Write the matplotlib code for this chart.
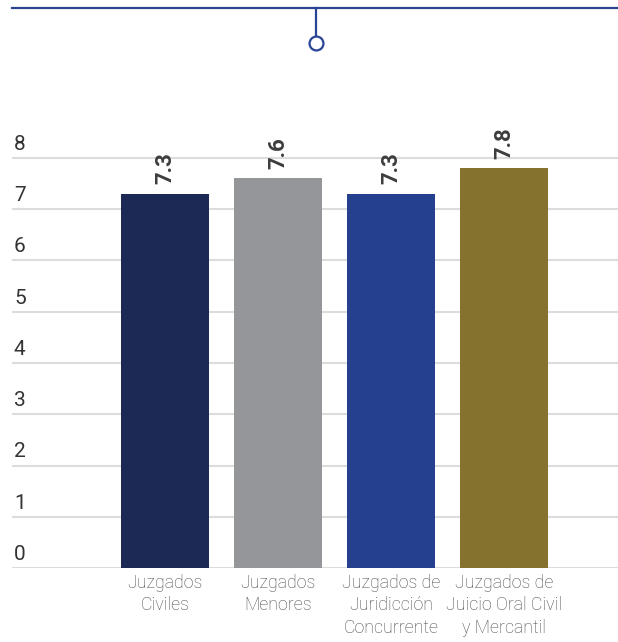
import matplotlib
matplotlib.use("Agg")
import matplotlib.pyplot as plt
from matplotlib.lines import Line2D
from matplotlib.transforms import blended_transform_factory, offset_copy

categories = ["Juzgados\nCiviles", "Juzgados\nMenores", "Juzgados de\nJuridicción\nConcurrente", "Juzgados de\nJuicio Oral Civil\ny Mercantil"]
values = [7.3, 7.6, 7.3, 7.8]
value_labels = ["7.3", "7.6", "7.3", "7.8"]
colors = ["#1c2955", "#959699", "#25408f", "#84722e"]
yticks = [0, 1, 2, 3, 4, 5, 6, 7, 8]

plt.rcParams['font.family'] = ['Roboto', 'DejaVu Sans']

W, H = 618, 642
fig = plt.figure(figsize=(W / 100, H / 100), dpi=100)

ax_left, ax_right = 12, 618
y0_px = 568
px_per_unit = 51.25
ax_top_px = 100
ax = fig.add_axes([ax_left / W, (H - y0_px) / H, (ax_right - ax_left) / W, (y0_px - ax_top_px) / H])
ax.set_ylim(0, (y0_px - ax_top_px) / px_per_unit)
spacing = 113.0
c0 = 165.0
ax.set_xlim(-(c0 - ax_left) / spacing, (ax_right - c0) / spacing)

x = list(range(len(values)))
ax.bar(x, values, width=88 / spacing, color=colors, zorder=3)

for s in ax.spines.values():
    s.set_visible(False)
ax.set_yticks(yticks)
ax.yaxis.grid(True, color="#dcdcdc", linewidth=1.5, zorder=0)
ax.tick_params(axis='y', length=0, labelleft=False)
ax.set_xticks(x)
ax.set_xticklabels(categories, fontsize=12.8, color="#4a4a4a", fontweight='light', linespacing=1.35)
ax.tick_params(axis='x', length=0, pad=4)

trans = blended_transform_factory(ax.transAxes, ax.transData)
trans_off = offset_copy(trans, fig=fig, x=0, y=3, units='points')
for t in yticks:
    ax.text(2 / (ax_right - ax_left), t, str(t), transform=trans_off, ha='left', va='bottom',
            fontsize=15, color="#333333", clip_on=False)

val_trans = offset_copy(ax.transData, fig=fig, x=0, y=7, units='points')
for xi, v, lab in zip(x, values, value_labels):
    ax.text(xi, v, lab, transform=val_trans, rotation=90, ha='center', va='bottom',
            fontsize=16, fontweight='bold', color="#3d3d3d")

blue = "#2a4494"
fig.add_artist(Line2D([12 / W, 1.0], [(H - 8) / H, (H - 8) / H], color=blue, linewidth=1.6))
fig.add_artist(Line2D([316 / W, 316 / W], [(H - 8) / H, (H - 37) / H], color=blue, linewidth=1.6))
fig.add_artist(Line2D([316 / W], [(H - 43) / H], marker='o', markersize=10, markerfacecolor='white',
                      markeredgecolor=blue, markeredgewidth=1.6, linestyle='none'))

fig.savefig("out.png", dpi=100)
